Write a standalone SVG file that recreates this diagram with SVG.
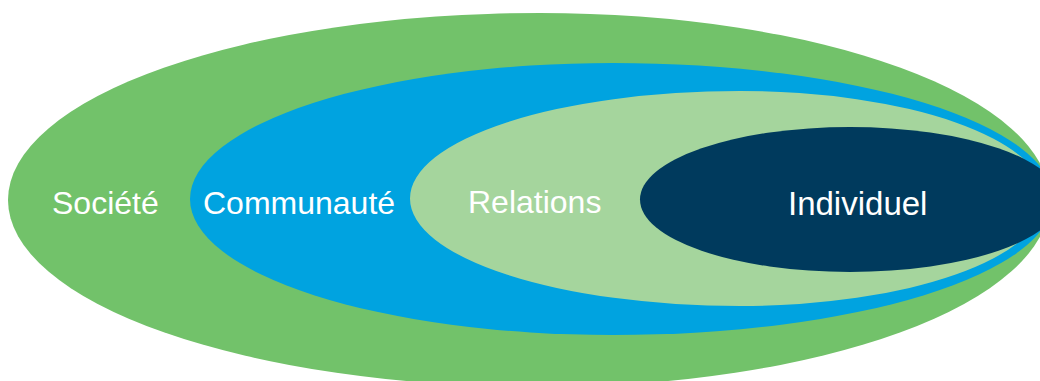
<svg xmlns="http://www.w3.org/2000/svg" width="1040" height="381" viewBox="0 0 1040 381">
  <style>
    .lbl { font-family: "Liberation Sans", Arial, sans-serif; font-size: 32px; fill: #ffffff; }
  </style>
  <rect width="1040" height="381" fill="#ffffff"/>
  <g id="societe">
    <path d="M8,200 A532,187 0 0 1 540,13 A510,187 0 0 1 1050,200 A510,187 0 0 1 540,387 A532,187 0 0 1 8,200 Z" fill="#72C26A"/>
    <text class="lbl" x="52" y="214">Société</text>
  </g>
  <g id="communaute">
    <path d="M190,199 A423,136 0 0 1 613,63 A440,136 0 0 1 1053,199 A440,136 0 0 1 613,335 A423,136 0 0 1 190,199 Z" fill="#00A3E0"/>
    <text class="lbl" x="203" y="214">Communauté</text>
  </g>
  <g id="relations">
    <path d="M410,198.5 A330,107.5 0 0 1 740,91 A305,107.5 0 0 1 1045,198.5 A305,107.5 0 0 1 740,306 A330,107.5 0 0 1 410,198.5 Z" fill="#A5D59D"/>
    <text class="lbl" x="468" y="213">Relations</text>
  </g>
  <g id="individuel">
    <ellipse cx="850" cy="199.5" rx="210" ry="72.5" fill="#003A5D"/>
    <text class="lbl" x="788" y="215" style="font-size:33px">Individuel</text>
  </g>
  <g id="connectors"/>
</svg>
